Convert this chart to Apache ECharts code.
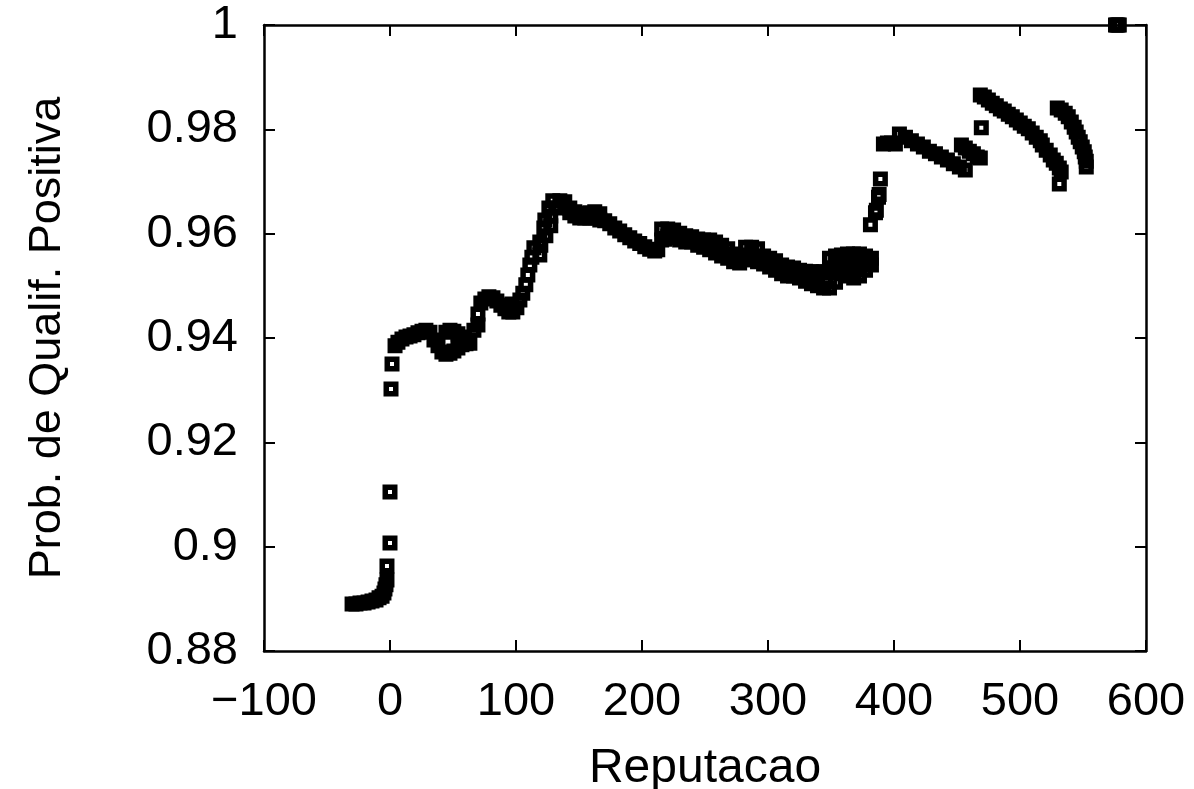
<!DOCTYPE html>
<html>
<head>
<meta charset="utf-8">
<script src="https://cdn.jsdelivr.net/npm/echarts@6/dist/echarts.min.js"></script>
<style>
html,body{margin:0;padding:0;background:#fff;}
#chart{width:1194px;height:789px;}
</style>
</head>
<body>
<div id="chart"></div>
<script>
// ---- data: [Reputacao, Prob. de Qualif. Positiva] ----
const segA = [[-30.1,0.8890],[-27.0,0.8890],[-23.8,0.8892],[-20.6,0.8892],[-17.4,0.8894],[-14.3,0.8896],[-11.1,0.8898],[-8.7,0.8902],[-6.3,0.8905],[-4.8,0.8911],[-4.0,0.8919],[-3.2,0.8927],[-2.4,0.8936]];
const segJump = [[-2.4,0.8963],[0.0,0.9007],[0.0,0.9105],[0.8,0.9302],[1.6,0.9350]];
const segB = [[4.0,0.9385],[6.3,0.9392],[9.5,0.9398],[12.7,0.9402],[15.9,0.9404],[19.0,0.9406],[22.2,0.9410],[25.4,0.9413],[28.5,0.9415],[31.7,0.9411],[34.9,0.9396],[38.1,0.9385],[41.2,0.9373],[44.4,0.9369],[47.6,0.9371],[50.7,0.9375],[53.9,0.9381],[57.1,0.9387],[60.3,0.9389],[63.4,0.9390],
  [44.4,0.9411],[47.6,0.9415],[50.7,0.9413],[53.9,0.9408],[57.1,0.9402],
  [66.6,0.9415],[69.8,0.9425],[69.8,0.9446],[72.1,0.9467],[75.3,0.9475],[78.5,0.9479],[81.7,0.9477],[84.8,0.9471],[88.0,0.9463],[91.2,0.9456],[94.3,0.9450],[97.5,0.9450],[96.7,0.9465],[100.7,0.9458],[103.1,0.9473],[105.4,0.9486],[107.8,0.9502]];
const segCrise = [[109.4,0.9521],[111.0,0.9540],[112.6,0.9555],[118.9,0.9559],[114.2,0.9573],[119.7,0.9578],[118.9,0.9584],[123.7,0.9596],[122.1,0.9611],[127.6,0.9615],[122.9,0.9626],[127.6,0.9634],[126.1,0.9649],[131.6,0.9649],[129.2,0.9663],[134.8,0.9663],[138.7,0.9661]];
const segCflat = [[142.7,0.9649],[146.7,0.9642],[150.6,0.9638],[154.6,0.9638],[158.6,0.9640],[162.5,0.9642],[166.5,0.9638],
  [142.7,0.9640],[146.7,0.9634],[150.6,0.9630],[154.6,0.9630],[158.6,0.9630],[162.5,0.9630],[166.5,0.9626]];
const segCdesc = [[170.4,0.9625],[174.4,0.9619],[178.4,0.9611],[182.3,0.9605],[186.3,0.9598],[190.3,0.9592],[194.2,0.9586],[198.2,0.9581],[202.2,0.9575],[206.1,0.9570],[210.1,0.9567],[212.5,0.9569],[218.0,0.9590]];
const segDupper = [[215.6,0.9609],[220.4,0.9609],[225.1,0.9607],[229.9,0.9601],[234.7,0.9596],[239.4,0.9594],[244.2,0.9590],[248.9,0.9588],[253.7,0.9588],[258.4,0.9584],[263.2,0.9578],[268.0,0.9571],[272.7,0.9561],[277.5,0.9559],[282.2,0.9574],[287.0,0.9574],[291.7,0.9571],[296.5,0.9557],[301.3,0.9553],[306.0,0.9548],[310.8,0.9540],[315.5,0.9536],[320.3,0.9534],[325.0,0.9530],[329.8,0.9528],[334.5,0.9527],[339.3,0.9527],[344.1,0.9527],[348.8,0.9553],[353.6,0.9557],[358.3,0.9559],[363.1,0.9561],[367.8,0.9561],[372.6,0.9561],[377.4,0.9557],[382.1,0.9553]];
const segDlower = [[215.6,0.9588],[220.4,0.9594],[225.1,0.9592],[229.9,0.9588],[234.7,0.9584],[239.4,0.9584],[244.2,0.9578],[248.9,0.9574],[253.7,0.9569],[258.4,0.9563],[263.2,0.9557],[268.0,0.9553],[272.7,0.9546],[277.5,0.9544],[282.2,0.9550],[287.0,0.9550],[291.7,0.9546],[296.5,0.9542],[301.3,0.9536],[306.0,0.9530],[310.8,0.9523],[315.5,0.9519],[320.3,0.9519],[325.0,0.9515],[329.8,0.9509],[334.5,0.9504],[339.3,0.9500],[344.1,0.9496],[348.8,0.9496],[353.6,0.9507],[358.3,0.9523],[363.1,0.9519],[368.0,0.9515],[372.6,0.9519],[377.4,0.9530],[382.1,0.9540]];
const segDmid = [[346.0,0.9512],[350.5,0.9525],[354.5,0.9535],[358.3,0.9541],[363.1,0.9540],[368.0,0.9538],[372.6,0.9540],[377.4,0.9544],[381.0,0.9547]];
const segDrise = [[218.0,0.9590],[381.3,0.9617],[385.3,0.9640],[386.0,0.9645],[387.7,0.9670],[388.2,0.9675],[389.2,0.9705]];
const segE = [[391.6,0.9772],[394.8,0.9774],[398.0,0.9774],[401.1,0.9772],[404.3,0.9791],[409.1,0.9785],[413.8,0.9778],[418.6,0.9772],[423.3,0.9766],[428.1,0.9758],[432.9,0.9753],[437.6,0.9747],[442.4,0.9741],[447.1,0.9734],[451.9,0.9728],[456.6,0.9722]];
const segEsmall = [[453.5,0.9770],[456.6,0.9764],[459.8,0.9758],[463.0,0.9753],[466.1,0.9747],[468.5,0.9745],[469.3,0.9803]];
const segF = [[468.5,0.9866],[471.7,0.9862],[474.9,0.9856],[478.0,0.9850],[481.2,0.9845],[484.4,0.9839],[487.5,0.9835],[490.7,0.9829],[493.9,0.9824],[497.1,0.9818],[500.2,0.9812],[503.4,0.9806],[506.6,0.9801],[509.7,0.9793],[512.9,0.9785],[516.1,0.9778],[517.7,0.9770],[520.8,0.9760],[524.0,0.9751],[526.4,0.9741],[528.8,0.9735],[531.2,0.9726],[532.7,0.9718],[531.2,0.9695]];
const segG = [[529.6,0.9841],[532.7,0.9837],[535.9,0.9831],[538.3,0.9824],[540.7,0.9814],[543.0,0.9804],[544.6,0.9795],[546.2,0.9785],[547.8,0.9776],[549.4,0.9766],[551.0,0.9757],[551.8,0.9747],[552.6,0.9739],[552.6,0.9728]];
const segH = [[575.8,1.0],[576.8,1.0],[577.8,1.0],[578.8,1.0]];

const xTickLabels = {'-100':'\u2212100','0':'0','100':'100','200':'200','300':'300','400':'400','500':'500','600':'600'};
const yTickLabels = {'0.88':'0.88','0.9':'0.9','0.92':'0.92','0.94':'0.94','0.96':'0.96','0.98':'0.98','1':'1'};
const xTitle = 'Reputacao';
const yTitle = 'Prob. de Qualif. Positiva';

const points = [].concat(segA, segJump, segB, segCrise, segCflat, segCdesc, segDupper, segDlower, segDmid, segDrise, segE, segEsmall, segF, segG, segH);

const FONT = '"Liberation Sans", Arial, Helvetica, sans-serif';
const axisLineStyle = {color:'#000', width:2.5};
const tickStyle = {color:'#000', width:2};

const chart = echarts.init(document.getElementById('chart'), null, {renderer:'canvas'});
chart.setOption({
  backgroundColor:'#fff',
  animation:false,
  grid:{left:264, right:48, top:25, bottom:138, containLabel:false, outerBoundsMode:'none'},
  xAxis:[{
    type:'value', min:-100, max:600, interval:100, position:'bottom',
    name:xTitle, nameLocation:'middle', nameGap:94,
    nameTextStyle:{fontSize:48, color:'#000', fontFamily:FONT},
    axisLine:{show:true, onZero:false, lineStyle:axisLineStyle},
    axisTick:{show:true, inside:true, length:11, lineStyle:tickStyle},
    axisLabel:{fontSize:47, color:'#000', fontFamily:FONT, margin:28,
      formatter:v => xTickLabels[String(Math.round(v))] || String(v)},
    splitLine:{show:false}
  },{
    type:'value', min:-100, max:600, interval:100, position:'top',
    axisLine:{show:true, onZero:false, lineStyle:axisLineStyle},
    axisTick:{show:true, inside:true, length:11, lineStyle:tickStyle},
    axisLabel:{show:false}, splitLine:{show:false}
  }],
  yAxis:[{
    type:'value', min:0.88, max:1, interval:0.02, position:'left',
    name:yTitle, nameLocation:'middle', nameGap:194,
    nameTextStyle:{fontSize:45, color:'#000', fontFamily:FONT},
    axisLine:{show:true, onZero:false, lineStyle:axisLineStyle},
    axisTick:{show:true, inside:true, length:11, lineStyle:tickStyle},
    axisLabel:{fontSize:47, color:'#000', fontFamily:FONT, margin:26,
      formatter:v => yTickLabels[String(+v.toFixed(2))] || String(v)},
    splitLine:{show:false}
  },{
    type:'value', min:0.88, max:1, interval:0.02, position:'right',
    axisLine:{show:true, onZero:false, lineStyle:axisLineStyle},
    axisTick:{show:true, inside:true, length:11, lineStyle:tickStyle},
    axisLabel:{show:false}, splitLine:{show:false}
  }],
  series:[{
    type:'scatter', xAxisIndex:0, yAxisIndex:0, clip:false,
    symbol:'rect', symbolSize:9.5,
    itemStyle:{color:'rgba(255,255,255,0)', borderColor:'#000', borderWidth:5.5, opacity:1},
    data:points
  }]
});
</script>
</body>
</html>
